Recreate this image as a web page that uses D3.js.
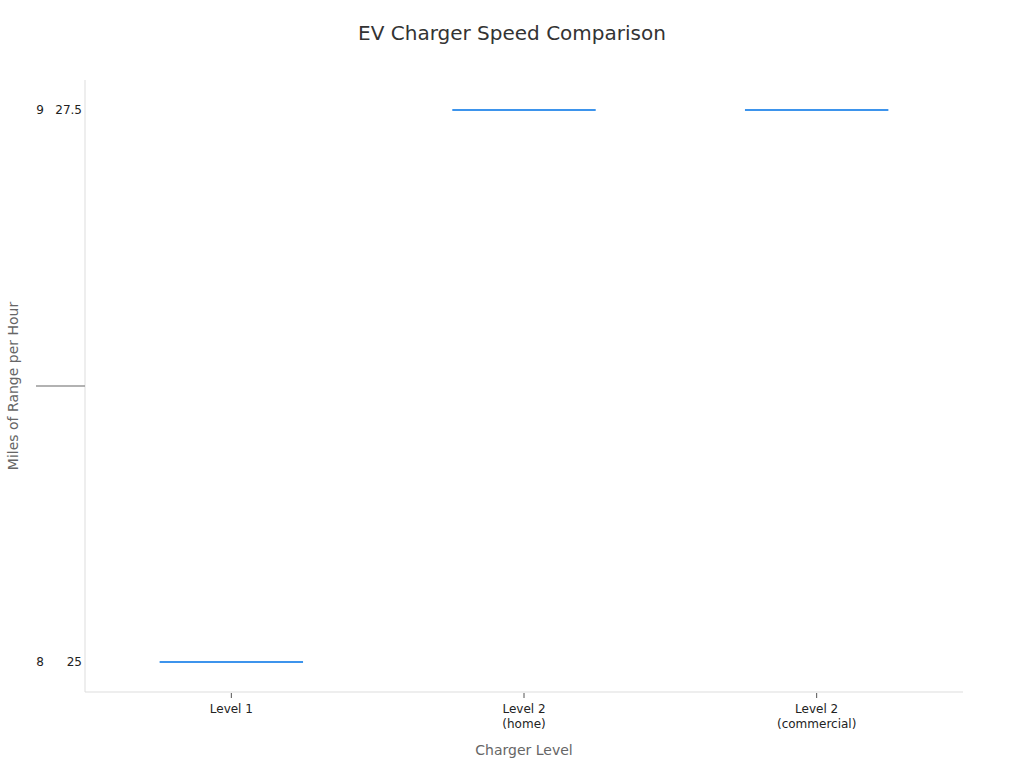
<!DOCTYPE html>
<html>
<head>
<meta charset="utf-8">
<script src="https://cdn.jsdelivr.net/npm/d3@7"></script>
<style>
  body { margin: 0; background: #fff; }
  svg { font-family: "DejaVu Sans", sans-serif; }
</style>
</head>
<body>
<svg id="chart" width="1024" height="768"></svg>
<script>
// ----------------------------
// Data
// ----------------------------
const categories = [["Level 1"], ["Level 2", "(home)"], ["Level 2", "(commercial)"]];
const rangeValues = [25, 27.5, 27.5];
const rangeTicks = [25, 27.5];
const kwValues = [8, 9, 9];
const kwTicks = [8, 9];
const kwMidTick = [8.5];

// ----------------------------
// Plotting
// ----------------------------
const svg = d3.select("#chart");
const width = +svg.attr("width");
const height = +svg.attr("height");
const margin = { top: 80, right: 61, bottom: 76, left: 85 };
const innerW = width - margin.left - margin.right;
const innerH = height - margin.top - margin.bottom;

const xScale = d3.scaleBand()
    .domain(categories.map((c, i) => i))
    .range([0, innerW]);

// value positions sit 30px inside the plot edges
const yScale = d3.scaleLinear().domain([25, 27.5]).range([innerH - 30, 30]);
const kwScale = d3.scaleLinear().domain([8, 9]).range([innerH - 30, 30]);

const g = svg.append("g").attr("transform", `translate(${margin.left},${margin.top})`);

// Title
svg.append("text")
    .attr("x", width / 2)
    .attr("y", 40)
    .attr("text-anchor", "middle")
    .attr("font-size", 20)
    .attr("fill", "#333")
    .text("EV Charger Speed Comparison");

// Axis lines
g.append("line")
    .attr("x1", 0).attr("x2", 0)
    .attr("y1", 0).attr("y2", innerH)
    .attr("stroke", "#ddd");
g.append("line")
    .attr("x1", 0).attr("x2", innerW)
    .attr("y1", innerH).attr("y2", innerH)
    .attr("stroke", "#ddd");

// Inner y labels (miles)
g.selectAll(".ytick")
  .data(rangeTicks)
  .join("text")
    .attr("class", "ytick")
    .attr("x", -3)
    .attr("y", d => yScale(d))
    .attr("dy", "0.35em")
    .attr("text-anchor", "end")
    .attr("font-size", 12)
    .attr("fill", "#222")
    .text(d => d);

// Outer y labels (kW)
g.selectAll(".kwtick")
  .data(kwTicks)
  .join("text")
    .attr("class", "kwtick")
    .attr("x", -41)
    .attr("y", d => kwScale(d))
    .attr("dy", "0.35em")
    .attr("text-anchor", "end")
    .attr("font-size", 12)
    .attr("fill", "#222")
    .text(d => d);

g.selectAll(".kwmid")
  .data(kwMidTick)
  .join("line")
    .attr("class", "kwmid")
    .attr("x1", -49).attr("x2", 0)
    .attr("y1", d => kwScale(d)).attr("y2", d => kwScale(d))
    .attr("stroke", "#999")
    .attr("stroke-width", 1.5);

// X ticks and labels
const xt = g.selectAll(".xtick")
  .data(categories)
  .join("g")
    .attr("class", "xtick")
    .attr("transform", (d, i) => `translate(${xScale(i) + xScale.bandwidth() / 2},${innerH})`);
xt.append("line")
    .attr("y1", 1).attr("y2", 6)
    .attr("stroke", "#555");
xt.append("text")
    .attr("text-anchor", "middle")
    .attr("font-size", 12)
    .attr("fill", "#222")
  .selectAll("tspan")
  .data(d => d)
  .join("tspan")
    .attr("x", 0)
    .attr("y", (d, i) => 21 + i * 15)
    .text(d => d);

// Value marks
const barW = xScale.bandwidth() * 0.49;
g.selectAll(".mark")
  .data(rangeValues)
  .join("line")
    .attr("class", "mark")
    .attr("x1", (d, i) => xScale(i) + (xScale.bandwidth() - barW) / 2)
    .attr("x2", (d, i) => xScale(i) + (xScale.bandwidth() + barW) / 2)
    .attr("y1", d => yScale(d))
    .attr("y2", d => yScale(d))
    .attr("stroke", "#3d94ec")
    .attr("stroke-width", 2);

// Axis titles
svg.append("text")
    .attr("x", margin.left + innerW / 2)
    .attr("y", 755)
    .attr("text-anchor", "middle")
    .attr("font-size", 14)
    .attr("fill", "#666")
    .text("Charger Level");
svg.append("text")
    .attr("transform", `translate(18,${margin.top + innerH / 2}) rotate(-90)`)
    .attr("text-anchor", "middle")
    .attr("font-size", 14)
    .attr("fill", "#666")
    .text("Miles of Range per Hour");
</script>
</body>
</html>
